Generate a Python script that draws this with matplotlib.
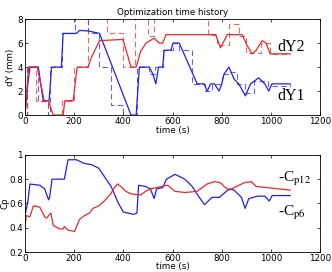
import numpy as np
import matplotlib
matplotlib.use("Agg")
import matplotlib.pyplot as plt

plt.rcParams['mathtext.fontset'] = 'stix'

# dY1 (blue) actual and target
t_y1 = [0, 8, 20, 54, 74, 98, 108, 148, 155, 209, 222, 260, 303, 431, 452, 465, 505,
        520, 532, 543, 560, 566, 593, 602, 627, 640, 700, 728, 741, 755, 770, 789,
        800, 809, 829, 850, 869, 896, 917, 950, 975, 991, 1004, 1078]
y1 = [0, 2.0, 4.0, 4.0, 1.2, 1.2, 4.0, 4.0, 6.8, 6.8, 7.05, 7.0, 6.8, 0.0, 0.0, 4.0, 4.0,
      3.4, 2.6, 4.0, 4.0, 5.4, 5.4, 6.0, 6.0, 5.4, 2.6, 2.6, 2.0, 2.6, 2.6, 2.0,
      2.6, 3.4, 4.0, 3.0, 2.6, 1.6, 2.6, 3.1, 2.6, 2.0, 2.6, 2.6]
t_y1_tgt = [0, 8, 52, 92, 102, 150, 202, 256, 300, 350, 400, 455, 505, 530, 560, 600,
            625, 680, 730, 760, 800, 830, 860, 895, 930, 990, 1078]
y1_tgt = [0, 4.0, 1.2, 0.0, 4.0, 6.8, 8.5, 6.8, 4.0, 0.8, 0.0, 4.0, 3.4, 4.0, 5.4, 6.0,
          5.4, 2.6, 2.0, 2.6, 3.4, 3.6, 2.6, 1.8, 2.8, 2.4, 2.6]

# dY2 (red) actual and target
t_y2 = [0, 15, 50, 78, 95, 115, 155, 162, 196, 212, 256, 270, 303, 398, 431, 452, 470,
        492, 525, 546, 560, 573, 775, 795, 810, 822, 883, 903, 923, 940, 964, 980,
        997, 1078]
y2 = [0, 4.0, 4.0, 1.2, 1.2, 0.0, 0.0, 1.2, 1.2, 4.0, 4.0, 4.8, 6.2, 6.3, 4.0, 4.0, 5.3,
      6.0, 6.4, 6.0, 6.0, 6.7, 6.7, 5.6, 6.2, 6.7, 6.7, 5.8, 5.1, 5.4, 6.2, 6.0,
      5.1, 5.1]
t_y2_tgt = [0, 8, 45, 95, 150, 200, 255, 300, 335, 398, 448, 455, 500, 525, 595, 745,
            780, 830, 870, 900, 960, 995, 1078]
y2_tgt = [0, 4.0, 1.2, 0.0, 1.2, 4.0, 8.5, 8.5, 6.8, 4.0, 8.5, 8.5, 6.6, 8.5, 8.5, 6.7,
          5.8, 7.6, 6.6, 5.2, 6.0, 5.1, 5.1]

# Cp (bottom)
t_cpb = [0, 5, 12, 20, 60, 80, 96, 100, 110, 160, 175, 210, 240, 270, 300, 350, 380,
         400, 440, 455, 462, 490, 510, 525, 535, 560, 575, 610, 650, 680, 705, 730,
         760, 790, 830, 850, 880, 895, 910, 945, 975, 993, 1005, 1078]
cpb = [0.50, 0.55, 0.62, 0.76, 0.75, 0.72, 0.63, 0.65, 0.80, 0.80, 0.96, 0.96, 0.93,
       0.92, 0.89, 0.74, 0.60, 0.53, 0.51, 0.52, 0.75, 0.74, 0.72, 0.64, 0.72, 0.73,
       0.80, 0.84, 0.80, 0.74, 0.66, 0.59, 0.65, 0.65, 0.72, 0.71, 0.65, 0.56, 0.64,
       0.66, 0.66, 0.62, 0.665, 0.665]
t_cpr = [0, 5, 20, 34, 60, 80, 88, 100, 105, 115, 140, 155, 160, 175, 202, 222, 242,
         262, 277, 300, 322, 349, 363, 376, 390, 410, 430, 470, 490, 510, 580, 610,
         650, 700, 740, 770, 795, 815, 830, 870, 890, 920, 940, 1078]
cpr = [0.40, 0.50, 0.49, 0.58, 0.57, 0.49, 0.48, 0.51, 0.52, 0.42, 0.39, 0.39, 0.41,
       0.38, 0.37, 0.47, 0.50, 0.52, 0.56, 0.58, 0.62, 0.68, 0.73, 0.76, 0.74, 0.70,
       0.68, 0.67, 0.70, 0.72, 0.75, 0.70, 0.69, 0.70, 0.76, 0.78, 0.77, 0.73, 0.71,
       0.75, 0.77, 0.78, 0.74, 0.71]

blue = '#2020e8'
red = '#e82828'
fs = 6.3

fig = plt.figure(figsize=(3.32, 2.72), dpi=100)
ax1 = fig.add_axes([0.0753, 0.577, 0.889, 0.353])
ax2 = fig.add_axes([0.0753, 0.0735, 0.889, 0.357])

ax1.step(t_y1_tgt, y1_tgt, where='post', color=blue, lw=0.8, ls=(0, (5, 3)), alpha=0.7)
ax1.step(t_y2_tgt, y2_tgt, where='post', color=red, lw=0.8, ls=(0, (5, 3)), alpha=0.7)
ax1.plot(t_y1, y1, color=blue, lw=0.9)
ax1.plot(t_y2, y2, color=red, lw=0.9)
ax1.text(1025, 5.65, 'dY2', fontsize=11.5, family='Liberation Serif', va='center')
ax1.text(1025, 1.6, 'dY1', fontsize=11.5, family='Liberation Serif', va='center')
ax1.set_xlim(0, 1200)
ax1.set_ylim(0, 8)
ax1.set_xticks(range(0, 1201, 200))
ax1.set_yticks(range(0, 9, 2))
ax1.set_xlabel('time (s)', fontsize=fs, labelpad=0)
ax1.set_ylabel('dY (mm)', fontsize=fs, labelpad=2)
ax1.set_title('Optimization time history', fontsize=fs, pad=3)

ax2.plot(t_cpb, cpb, color=blue, lw=0.9)
ax2.plot(t_cpr, cpr, color=red, lw=0.9)
ax2.text(1028, 0.8, r'-C$_{\mathrm{p12}}$', fontsize=11, family='Liberation Serif', va='center')
ax2.text(1028, 0.52, r'-C$_{\mathrm{p6}}$', fontsize=11, family='Liberation Serif', va='center')
ax2.set_xlim(0, 1200)
ax2.set_ylim(0.2, 1)
ax2.set_xticks(range(0, 1201, 200))
ax2.set_yticks([0.2, 0.4, 0.6, 0.8, 1])
ax2.set_yticklabels(['0.2', '0.4', '0.6', '0.8', '1'])
ax2.set_xlabel('time (s)', fontsize=fs, labelpad=-1)
ax2.set_ylabel('Cp', fontsize=fs, labelpad=0)

for ax in (ax1, ax2):
    ax.tick_params(direction='in', top=True, right=True, labelsize=fs, length=2.5,
                   width=0.5, pad=1.5)
    for s in ax.spines.values():
        s.set_linewidth(0.6)

fig.savefig('out.png', dpi=100)
